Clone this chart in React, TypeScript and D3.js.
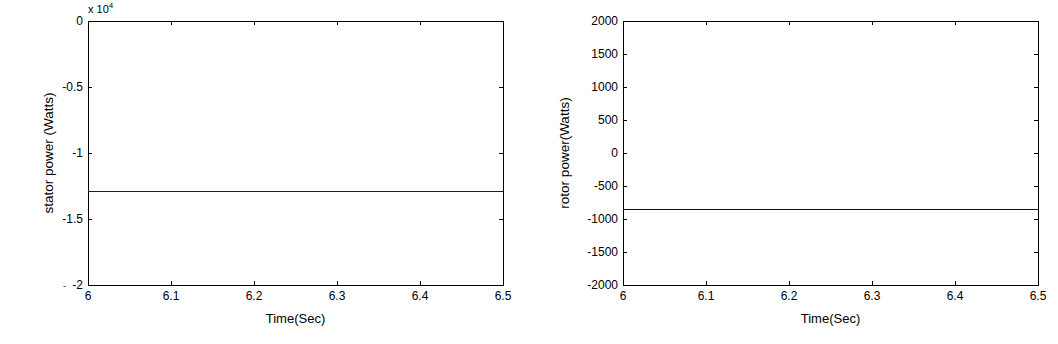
import React from "react";
import * as d3 from "d3";

const timeRange = [6, 6.5];
const xTicks = [6, 6.1, 6.2, 6.3, 6.4, 6.5];
const statorTicks = [0, -0.5, -1, -1.5, -2];
const statorTickLabels = ["0", "-0.5", "-1", "-1.5", "-2"];
const rotorTicks = [2000, 1500, 1000, 500, 0, -500, -1000, -1500, -2000];
const statorTime = [6, 6.5];
const statorPower = [-1.29, -1.29]; // x 10^4 W
const rotorTime = [6, 6.5];
const rotorPower = [-848, -848];

const FONT = "'Liberation Sans', Arial, sans-serif";

function Panel({ left, right, top, bottom, yDomain, yTicks, yLabels, xs, ys, color, ylabel, ylabelX, exponent }: any) {
  const x = d3.scaleLinear().domain(timeRange).range([left, right]);
  const y = d3.scaleLinear().domain(yDomain).range([bottom, top]);
  const line = d3.line<number>().x((_, i) => x(xs[i])).y((d) => Math.round(y(d)) + 0.5);
  const tl = 4;
  return (
    <g>
      <rect x={left + 0.5} y={top + 0.5} width={right - left} height={bottom - top} fill="white" stroke="black" strokeWidth={1} />
      {xTicks.map((t) => (
        <g key={"x" + t}>
          <line x1={Math.round(x(t)) + 0.5} x2={Math.round(x(t)) + 0.5} y1={bottom} y2={bottom - tl} stroke="black" />
          <line x1={Math.round(x(t)) + 0.5} x2={Math.round(x(t)) + 0.5} y1={top} y2={top + tl} stroke="black" />
          <text x={x(t)} y={bottom + 15} textAnchor="middle" fontSize={12} fontFamily={FONT}>{String(t)}</text>
        </g>
      ))}
      {yTicks.map((t: number, i: number) => (
        <g key={"y" + t}>
          <line x1={left} x2={left + tl} y1={Math.round(y(t)) + 0.5} y2={Math.round(y(t)) + 0.5} stroke="black" />
          <line x1={right} x2={right - tl} y1={Math.round(y(t)) + 0.5} y2={Math.round(y(t)) + 0.5} stroke="black" />
          <text x={left - 5} y={y(t) + 4} textAnchor="end" fontSize={12} fontFamily={FONT}>{yLabels ? yLabels[i] : String(t)}</text>
        </g>
      ))}
      <path d={line(ys) || ""} fill="none" stroke={color} strokeWidth={1} />
      <text x={(left + right) / 2} y={bottom + 38} textAnchor="middle" fontSize={13} fontFamily={FONT}>Time(Sec)</text>
      <text transform={`translate(${ylabelX},${(top + bottom) / 2}) rotate(-90)`} textAnchor="middle" fontSize={13.5} fontFamily={FONT}>{ylabel}</text>
      {exponent && (
        <text x={left} y={top - 8} fontSize={11} fontFamily={FONT}>
          x 10<tspan dy={-5} fontSize={8}>4</tspan>
        </text>
      )}
    </g>
  );
}

export default function App() {
  return (
    <svg width={1058} height={344} style={{ position: "absolute", left: 0, top: 0, background: "white" }}>
      <rect width={1058} height={344} fill="white" />
      <Panel left={88} right={503} top={21} bottom={285} yDomain={[-2, 0]} yTicks={statorTicks} yLabels={statorTickLabels}
        xs={statorTime} ys={statorPower} color="#0000ff" ylabel="stator power (Watts)" ylabelX={53} exponent />
      <text x={63} y={289} fontSize={9} fontFamily={FONT}>-</text>
      <Panel left={623} right={1038} top={21} bottom={285} yDomain={[-2000, 2000]} yTicks={rotorTicks}
        xs={rotorTime} ys={rotorPower} color="#000080" ylabel="rotor power(Watts)" ylabelX={569} />
    </svg>
  );
}
